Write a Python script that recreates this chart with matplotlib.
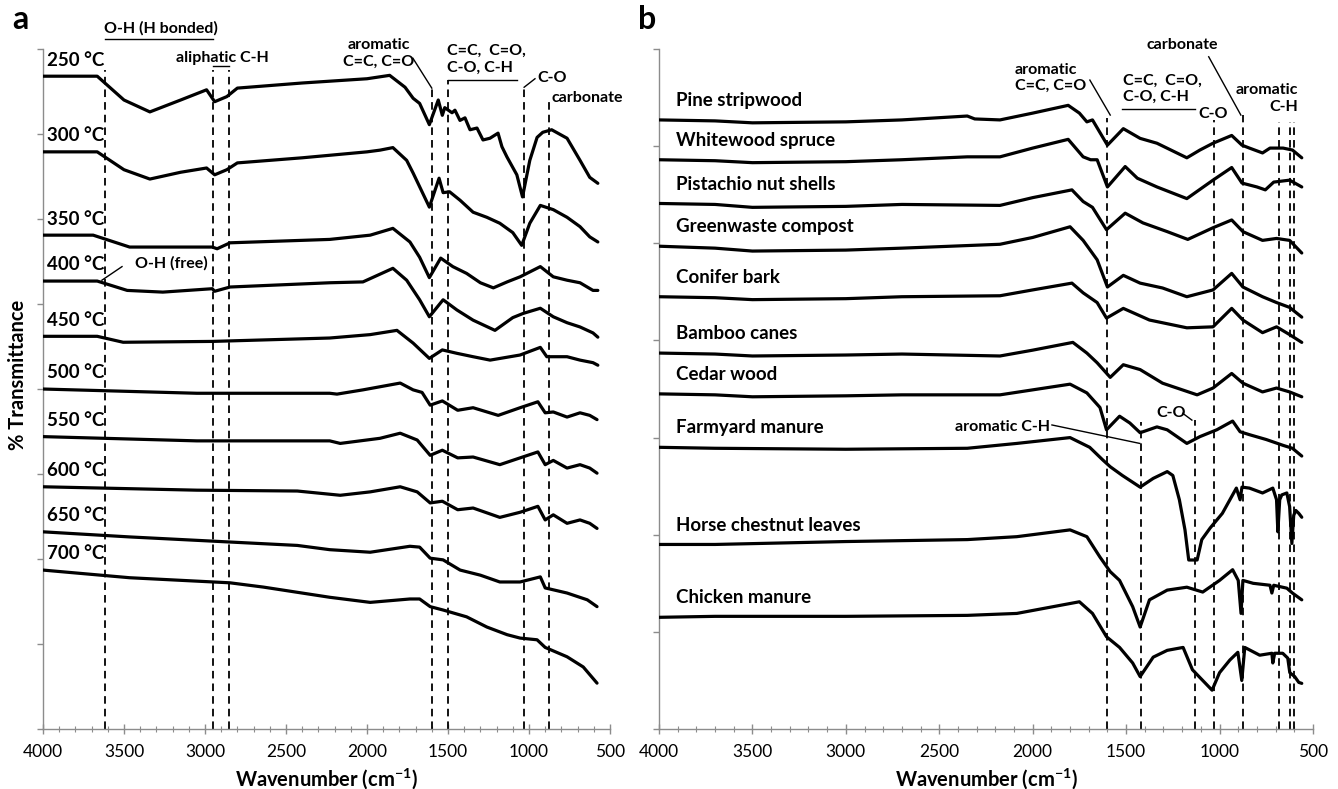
import matplotlib
matplotlib.use('Agg')
import matplotlib.pyplot as plt
from matplotlib.ticker import MultipleLocator

plt.rcParams['font.family'] = ['Lato', 'DejaVu Sans']
plt.rcParams['mathtext.fontset'] = 'custom'
plt.rcParams['mathtext.rm'] = 'Lato'
plt.rcParams['mathtext.bf'] = 'Lato:bold'

# ---------------- Panel a: pyrolysis temperature series ----------------
wn_250 = [4000, 3665, 3500, 3340, 3150, 2990, 2940, 2865, 2800, 2400, 2000, 1860, 1765, 1715, 1675, 1615, 1560,
          1535, 1520, 1475, 1457, 1426, 1395, 1364, 1321, 1284, 1241, 1191, 1167, 1136, 1075, 1040, 995, 950, 915,
          860, 765, 685, 625, 575]
t_250 = [76.8, 76.8, 74.0, 72.6, 74.0, 75.2, 73.8, 74.4, 75.4, 76.0, 76.5, 76.9, 75.5, 74.2, 73.6, 71.1, 74.0,
         72.2, 73.1, 72.5, 72.8, 71.6, 71.9, 70.5, 70.7, 69.3, 69.5, 70.1, 68.5, 67.3, 65.2, 62.6, 66.9, 69.6, 70.2,
         70.5, 69.5, 66.9, 64.9, 64.2]

wn_300 = [4000, 3665, 3500, 3340, 3150, 2990, 2940, 2865, 2800, 2400, 2000, 1920, 1840, 1755, 1715, 1615, 1555,
          1530, 1490, 1425, 1345, 1260, 1180, 1100, 1045, 995, 930, 850, 765, 685, 625, 575]
t_300 = [67.9, 67.9, 65.8, 64.7, 65.5, 66.0, 65.2, 65.8, 66.6, 67.2, 67.9, 68.1, 68.4, 66.9, 65.4, 61.4, 64.8,
         63.1, 63.2, 62.2, 60.8, 60.2, 59.5, 58.4, 56.9, 59.5, 61.6, 61.1, 60.2, 59.1, 57.9, 57.3]

wn_350 = [4000, 3690, 3465, 2955, 2925, 2845, 2230, 1980, 1840, 1735, 1675, 1615, 1545, 1470, 1385, 1300, 1220,
          1135, 1055, 930, 850, 765, 685, 605, 575]
t_350 = [58.1, 58.1, 56.7, 56.7, 56.5, 57.2, 57.6, 58.1, 58.9, 57.3, 55.5, 53.1, 55.4, 54.4, 53.6, 52.5, 51.9,
         52.6, 53.2, 54.4, 53.2, 52.8, 52.5, 51.6, 51.6]

wn_400 = [4000, 3665, 3480, 3260, 2955, 2940, 2845, 2230, 2025, 1840, 1755, 1675, 1615, 1530, 1445, 1345, 1210,
          1100, 1035, 930, 850, 765, 685, 605, 575]
t_400 = [52.7, 52.7, 51.6, 51.4, 51.8, 51.5, 52.0, 52.5, 52.6, 54.2, 52.8, 50.5, 48.5, 50.5, 49.3, 48.1, 46.9,
         48.4, 48.9, 49.5, 48.5, 47.8, 47.3, 46.6, 46.1]

wn_450 = [4000, 3665, 3505, 2955, 2230, 1980, 1815, 1715, 1615, 1535, 1445, 1345, 1240, 1055, 930, 890, 765, 685,
          605, 575]
t_450 = [46.2, 46.2, 45.5, 45.6, 46.0, 46.4, 46.9, 45.4, 43.6, 44.6, 44.2, 43.8, 43.4, 44.0, 44.9, 43.8, 43.8, 43.4,
         43.1, 42.8]

wn_500 = [4000, 3050, 2230, 2185, 2025, 1795, 1715, 1660, 1610, 1535, 1440, 1345, 1190, 1055, 945, 900, 850, 765,
          685, 625, 580]
t_500 = [40.0, 39.5, 39.5, 39.4, 39.9, 40.7, 39.9, 39.6, 38.1, 38.6, 37.5, 37.8, 36.9, 37.8, 38.5, 37.2, 37.3, 36.7,
         37.2, 36.9, 36.4]

wn_550 = [4000, 3050, 2230, 2165, 1920, 1795, 1690, 1610, 1535, 1440, 1345, 1180, 1055, 945, 900, 850, 765, 685,
          625, 580]
t_550 = [34.4, 33.9, 33.9, 33.6, 34.2, 34.8, 34.0, 32.2, 32.8, 31.9, 32.0, 31.1, 31.9, 32.6, 31.1, 31.6, 30.7, 31.1,
         30.7, 30.1]

wn_600 = [4000, 3050, 2430, 2165, 1980, 1795, 1690, 1610, 1535, 1440, 1345, 1180, 1055, 945, 900, 850, 765, 685,
          625, 580]
t_600 = [28.5, 28.1, 28.0, 27.5, 27.9, 28.5, 27.9, 26.6, 26.8, 25.8, 26.0, 24.9, 25.5, 26.2, 24.6, 25.2, 24.2, 24.6,
         24.2, 23.6]

wn_650 = [4000, 3465, 2845, 2430, 2230, 1980, 1735, 1675, 1610, 1530, 1425, 1300, 1180, 1055, 930, 900, 765, 640, 580]
t_650 = [23.2, 22.6, 22.0, 21.6, 21.1, 20.8, 21.5, 21.4, 20.1, 19.9, 18.7, 18.1, 17.3, 17.3, 17.9, 16.6, 16.0, 15.2,
         14.4]

wn_700 = [4000, 3465, 2845, 2640, 2230, 1980, 1735, 1675, 1610, 1530, 1385, 1260, 1135, 1055, 950, 900, 765, 665, 580]
t_700 = [18.7, 17.8, 17.2, 16.7, 15.5, 14.9, 15.3, 15.3, 14.4, 14.0, 13.2, 12.0, 11.1, 10.7, 10.5, 9.6, 8.5, 7.3, 5.4]

temp_labels = ['250 °C', '300 °C', '350 °C', '400 °C', '450 °C', '500 °C', '550 °C', '600 °C', '650 °C', '700 °C']
series_a = [(wn_250, t_250), (wn_300, t_300), (wn_350, t_350), (wn_400, t_400), (wn_450, t_450),
            (wn_500, t_500), (wn_550, t_550), (wn_600, t_600), (wn_650, t_650), (wn_700, t_700)]

bands_a = [3620, 2950, 2850, 1600, 1500, 1030, 875]
bands_a_top = [77.5, 77.5, 77.5, 75.4, 76.4, 75.5, 74.0]

# ---------------- Panel b: feedstock series ----------------
wn_pine = [4000, 3700, 3500, 3000, 2700, 2350, 2310, 2175, 2000, 1810, 1750, 1710, 1680, 1600, 1515, 1425, 1335,
           1175, 1105, 1035, 935, 880, 840, 770, 730, 660, 610, 560]
t_pine = [62.7, 62.6, 62.4, 62.5, 62.7, 63.1, 62.8, 62.7, 63.4, 64.2, 63.4, 62.5, 62.7, 60.1, 61.8, 60.8, 60.3,
          58.8, 59.6, 60.3, 61.1, 60.1, 59.8, 59.3, 59.8, 59.8, 59.6, 58.8]

wn_white = [4000, 3700, 3500, 3000, 2700, 2350, 2175, 2000, 1810, 1730, 1690, 1655, 1600, 1505, 1440, 1335, 1175,
            1035, 935, 880, 800, 755, 710, 625, 560]
t_white = [58.6, 58.5, 58.3, 58.4, 58.6, 58.9, 58.9, 59.8, 60.7, 58.9, 58.6, 58.6, 55.8, 57.9, 56.7, 55.8, 54.6,
           56.5, 57.8, 56.2, 55.8, 55.5, 56.3, 56.5, 55.8]

wn_pist = [4000, 3700, 3500, 3000, 2700, 2175, 2000, 1790, 1730, 1680, 1605, 1505, 1410, 1280, 1170, 1035, 935, 875,
           770, 695, 625, 560]
t_pist = [54.1, 54.0, 53.7, 53.8, 54.0, 53.9, 54.7, 55.5, 54.3, 53.7, 51.4, 53.1, 52.1, 51.2, 50.4, 51.6, 52.4, 51.2,
          50.3, 50.5, 50.3, 49.0]

wn_green = [4000, 3700, 3500, 3000, 2700, 2175, 2000, 1800, 1730, 1655, 1600, 1515, 1425, 1305, 1175, 1035, 935,
            875, 770, 695, 625, 560]
t_green = [49.7, 49.5, 49.2, 49.3, 49.5, 49.9, 50.6, 51.7, 50.3, 48.3, 45.5, 46.7, 45.9, 45.4, 44.5, 45.2, 46.9,
           45.5, 44.5, 43.9, 43.4, 42.4]

wn_conifer = [4000, 3700, 3500, 3000, 2700, 2175, 2000, 1790, 1730, 1655, 1605, 1515, 1375, 1175, 1035, 935, 875,
              770, 695, 625, 560]
t_conifer = [44.5, 44.4, 44.2, 44.3, 44.5, 44.6, 45.2, 45.9, 44.9, 43.9, 42.3, 43.3, 42.1, 41.3, 41.4, 43.3, 42.1,
             40.8, 41.4, 40.6, 39.8]

wn_bamboo = [4000, 3700, 3500, 3000, 2700, 2175, 2000, 1785, 1710, 1655, 1585, 1515, 1425, 1305, 1120, 1035, 935,
             875, 770, 695, 625, 560]
t_bamboo = [38.7, 38.6, 38.4, 38.5, 38.6, 38.4, 39.0, 39.8, 38.7, 37.7, 36.2, 37.5, 37.0, 35.6, 34.4, 35.1, 36.6,
            35.6, 34.7, 35.1, 34.7, 34.2]

wn_cedar = [4000, 3700, 3500, 3000, 2700, 2175, 1800, 1710, 1640, 1605, 1535, 1480, 1425, 1335, 1280, 1175, 1105,
            1015, 930, 890, 840, 750, 660, 610, 560]
t_cedar = [34.5, 34.4, 34.2, 34.3, 34.4, 34.4, 35.5, 34.6, 33.1, 30.8, 32.2, 31.5, 30.5, 31.1, 30.8, 29.4, 30.1,
           30.8, 31.7, 30.6, 30.3, 29.8, 29.2, 28.9, 28.1]

wn_farm = [4000, 3700, 3000, 2350, 2085, 1800, 1695, 1625, 1585, 1520, 1425, 1355, 1280, 1250, 1215, 1185, 1165,
           1120, 1095, 1050, 985, 910, 890, 880, 840, 770, 715, 695, 688, 678, 667, 640, 625, 613, 603, 592, 576, 560]
t_farm = [29.0, 28.9, 28.8, 28.9, 29.4, 30.0, 29.0, 27.7, 27.0, 26.1, 24.9, 25.8, 26.5, 26.1, 23.6, 20.5, 17.4,
          17.4, 19.5, 20.7, 22.2, 24.8, 23.6, 24.9, 24.8, 24.3, 24.8, 23.6, 20.3, 23.6, 24.1, 24.3, 22.9, 19.1, 22.0,
          22.5, 22.2, 21.8]

wn_horse = [4000, 3700, 3000, 2350, 2085, 1800, 1710, 1640, 1585, 1535, 1465, 1425, 1375, 1280, 1175, 1090, 1000,
            930, 900, 885, 875, 820, 730, 720, 710, 640, 610, 560]
t_horse = [19.0, 19.0, 19.3, 19.5, 19.8, 20.5, 19.8, 17.7, 16.2, 15.3, 12.6, 10.5, 13.3, 14.3, 14.6, 14.1, 15.3,
           16.4, 15.3, 11.9, 15.3, 15.0, 14.8, 14.0, 14.8, 14.5, 14.0, 13.3]

wn_chicken = [4000, 3700, 3000, 2350, 2085, 1750, 1680, 1605, 1535, 1465, 1425, 1355, 1280, 1195, 1145, 1090, 1040,
              1000, 945, 902, 881, 865, 785, 720, 715, 705, 662, 635, 624, 598, 576, 560]
t_chicken = [11.5, 11.6, 11.6, 11.7, 11.9, 13.1, 11.9, 9.5, 8.4, 6.8, 5.4, 7.4, 8.1, 8.4, 6.1, 5.0, 4.0, 5.8, 7.1,
             7.9, 5.0, 8.4, 7.6, 7.8, 6.8, 7.8, 7.8, 7.3, 5.8, 5.4, 4.8, 4.7]

sample_labels = ['Pine stripwood', 'Whitewood spruce', 'Pistachio nut shells', 'Greenwaste compost', 'Conifer bark',
                 'Bamboo canes', 'Cedar wood', 'Farmyard manure', 'Horse chestnut leaves', 'Chicken manure']
series_b = [(wn_pine, t_pine), (wn_white, t_white), (wn_pist, t_pist), (wn_green, t_green),
            (wn_conifer, t_conifer), (wn_bamboo, t_bamboo), (wn_cedar, t_cedar), (wn_farm, t_farm),
            (wn_horse, t_horse), (wn_chicken, t_chicken)]

bands_b = [1600, 1420, 1130, 1030, 875, 680, 625, 600]
bands_b_top = [62.9, 31.6, 31.8, 62.7, 63.2, 62.5, 62.5, 62.5]

xticks = [4000, 3500, 3000, 2500, 2000, 1500, 1000, 500]

# ---------------- Figure ----------------
fig = plt.figure(figsize=(13.38, 7.89), dpi=100)
ax_a = fig.add_axes([0.0321, 0.0760, 0.4238, 0.8619])
ax_b = fig.add_axes([0.4925, 0.0760, 0.4888, 0.8619])

AX_GREY = '#8c8c8c'
DASH = (0, (4.2, 2.8))


def style_axis(ax, ymax):
    ax.set_xlim(4000, 500)
    ax.set_ylim(0, ymax)
    ax.set_xticks(xticks)
    ax.xaxis.set_minor_locator(MultipleLocator(100))
    ax.yaxis.set_major_locator(MultipleLocator(10))
    ax.set_yticklabels([])
    for s in ['top', 'right']:
        ax.spines[s].set_visible(False)
    for s in ['left', 'bottom']:
        ax.spines[s].set_color(AX_GREY)
        ax.spines[s].set_linewidth(1.0)
    ax.tick_params(axis='x', which='major', direction='inout', length=7, width=1.0, color=AX_GREY,
                   labelsize=12.5, pad=7)
    ax.tick_params(axis='x', which='minor', direction='inout', length=4, width=0.8, color=AX_GREY)
    ax.tick_params(axis='y', which='major', direction='out', length=4, width=1.0, color=AX_GREY)
    ax.set_xlabel('Wavenumber (cm$^{\\mathbf{-1}}$)', fontsize=14.5, fontweight='bold', labelpad=5)


style_axis(ax_a, 80)
style_axis(ax_b, 70)

LW = 2.3
LABEL_FS = 13.5
# Panel a curves + labels
for (wn, t), lab in zip(series_a, temp_labels):
    ax_a.plot(wn, t, color='black', lw=LW, solid_joinstyle='round', solid_capstyle='round', zorder=3)
    ax_a.text(3975, t[0] + 1.9, lab, fontsize=LABEL_FS, fontweight='bold', ha='left', va='center', zorder=4)

ax_a.vlines(bands_a, 0, bands_a_top, colors='black', linestyles=DASH, lw=1.3, zorder=2)

# Panel b curves + labels
for (wn, t), lab in zip(series_b, sample_labels):
    ax_b.plot(wn, t, color='black', lw=LW, solid_joinstyle='round', solid_capstyle='round', zorder=3)
    ax_b.text(3910, t[0] + 2.0, lab, fontsize=LABEL_FS, fontweight='bold', ha='left', va='center', zorder=4)

ax_b.vlines(bands_b, 0, bands_b_top, colors='black', linestyles=DASH, lw=1.3, zorder=2)

ANN = dict(fontsize=11.5, fontweight='bold', zorder=5)
LK = dict(color='black', lw=1.0, clip_on=False, zorder=5)

# Panel a annotations
ax_a.text(3272, 82.4, 'O-H (H bonded)', ha='center', va='center', clip_on=False, **ANN)
ax_a.plot([3617, 2951], [81.2, 81.2], **LK)
ax_a.text(2895, 78.9, 'aliphatic C-H', ha='center', va='center', **ANN)
ax_a.plot([2950, 2850], [78.0, 78.0], **LK)
ax_a.text(1926, 79.5, 'aromatic\nC=C, C=O', ha='center', va='center', linespacing=1.2, **ANN)
ax_a.plot([1716, 1600], [78.9, 75.4], **LK)
ax_a.text(1506, 78.8, 'C=C,  C=O,\nC-O, C-H', ha='left', va='center', linespacing=1.2, **ANN)
ax_a.plot([1500, 1075], [76.4, 76.4], **LK)
ax_a.text(950, 76.6, 'C-O', ha='left', va='center', **ANN)
ax_a.plot([1030, 963], [75.5, 76.5], **LK)
ax_a.text(858, 74.2, 'carbonate', ha='left', va='center', **ANN)
ax_a.text(3432, 54.8, 'O-H (free)', ha='left', va='center', **ANN)
ax_a.plot([3512, 3636], [54.4, 52.8], **LK)

# Panel b annotations
ax_b.text(2095, 67.0, 'aromatic\nC=C, C=O', ha='left', va='center', linespacing=1.2, **ANN)
ax_b.plot([1694, 1585], [66.8, 63.2], **LK)
ax_b.text(1518, 65.9, 'C=C,  C=O,\nC-O, C-H', ha='left', va='center', linespacing=1.2, **ANN)
ax_b.plot([1523, 1132], [63.8, 63.8], **LK)
ax_b.text(1111, 63.3, 'C-O', ha='left', va='center', **ANN)
ax_b.text(1389, 70.4, 'carbonate', ha='left', va='center', **ANN)
ax_b.plot([1058, 886], [69.2, 63.2], **LK)
ax_b.text(581, 64.9, 'aromatic\nC-H', ha='right', va='center', multialignment='right', linespacing=1.2, **ANN)
ax_b.text(1908, 31.1, 'aromatic C-H', ha='right', va='center', **ANN)
ax_b.plot([1897, 1427], [31.3, 29.4], **LK)
ax_b.text(1336, 32.5, 'C-O', ha='left', va='center', **ANN)
ax_b.plot([1197, 1148], [32.5, 31.8], **LK)

# Panel letters and shared y label
fig.text(0.009, 0.975, 'a', fontsize=23, fontweight='bold', ha='left', va='center')
fig.text(0.477, 0.975, 'b', fontsize=23, fontweight='bold', ha='left', va='center')
fig.text(0.0135, 0.525, '% Transmittance', rotation=90, fontsize=14.5, fontweight='bold', ha='center', va='center')

fig.savefig('out.png', dpi=100)
